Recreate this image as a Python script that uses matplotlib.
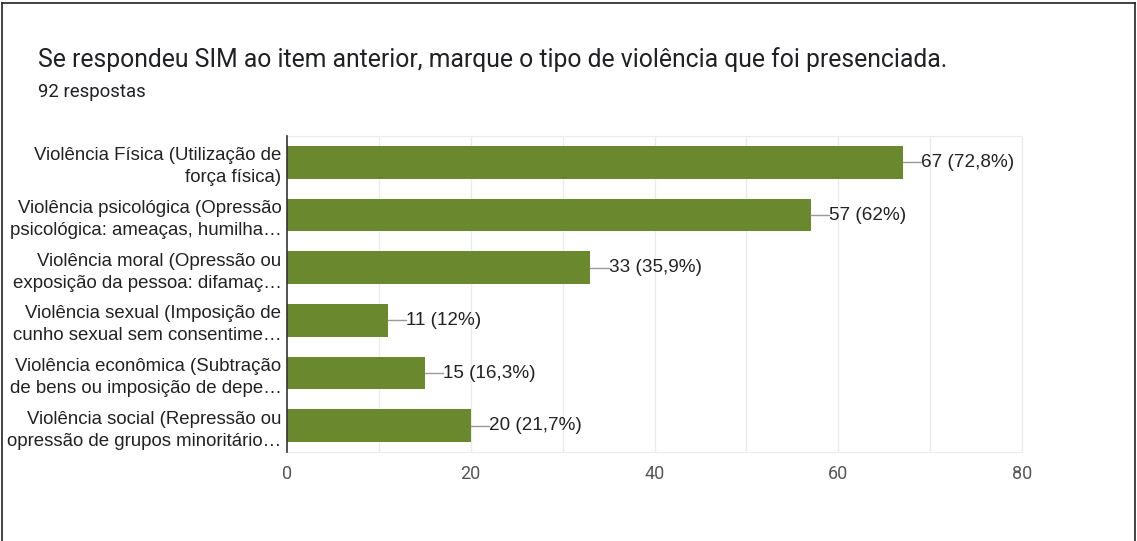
import matplotlib.pyplot as plt
from matplotlib.lines import Line2D

title = 'Se respondeu SIM ao item anterior, marque o tipo de violência que foi presenciada.'
subtitle = '92 respostas'
categories = [
    'Violência Física (Utilização de\nforça física)',
    'Violência psicológica (Opressão\npsicológica: ameaças, humilha…',
    'Violência moral (Opressão ou\nexposição da pessoa: difamaç…',
    'Violência sexual (Imposição de\ncunho sexual sem consentime…',
    'Violência econômica (Subtração\nde bens ou imposição de depe…',
    'Violência social (Repressão ou\nopressão de grupos minoritário…',
]
counts = [67, 57, 33, 11, 15, 20]
value_labels = ['67 (72,8%)', '57 (62%)', '33 (35,9%)', '11 (12%)', '15 (16,3%)', '20 (21,7%)']
xticks = [0, 20, 40, 60, 80]

plt.rcParams['font.family'] = ['Liberation Sans', 'DejaVu Sans']

fig = plt.figure(figsize=(11.37, 5.41), dpi=100)
ax = fig.add_axes([0.2524, 0.1645, 0.6465, 0.5841])

bar_color = '#6a892e'
ypos = list(range(len(categories)))
ax.barh(ypos, counts, height=0.62, color=bar_color, zorder=3)
ax.set_ylim(len(categories) - 0.5, -0.5)
ax.set_xlim(0, 80)

# gridlines every 10
for gx in range(10, 81, 10):
    ax.axvline(gx, color='#ebebeb', lw=1, zorder=1)

ax.set_xticks(xticks)
ax.set_xticklabels([str(t) for t in xticks], fontsize=13, color='#555555',
                   family=['Roboto', 'DejaVu Sans'])
ax.set_yticks(ypos)
ax.set_yticklabels(categories, fontsize=13.4, color='#222222', linespacing=1.38)
ax.tick_params(axis='both', length=0, pad=4)
ax.tick_params(axis='x', pad=9)

for side in ['top', 'right', 'bottom']:
    ax.spines[side].set_color('#ebebeb')
ax.spines['left'].set_color('#333333')
ax.spines['left'].set_linewidth(1.2)
ax.spines['left'].set_zorder(4)

for y, c, lbl in zip(ypos, counts, value_labels):
    ax.plot([c, c + 2.0], [y, y], color='#999999', lw=1, zorder=4, clip_on=False)
    ax.text(c + 2.0, y, lbl, va='center', ha='left', fontsize=13.6, color='#222222')

fig.text(38 / 1137, 1 - 60 / 541, title, fontsize=17.8, color='#202124', va='center', ha='left',
         family=['Roboto', 'DejaVu Sans'])
fig.text(38 / 1137, 1 - 92 / 541, subtitle, fontsize=13.4, color='#202124', va='center', ha='left',
         family=['Roboto', 'DejaVu Sans'])

# outer frame (left, top, right)
fig.add_artist(Line2D([2 / 1137, 2 / 1137], [0, 1 - 3 / 541], color='#222222', lw=1.2, transform=fig.transFigure))
fig.add_artist(Line2D([2 / 1137, 1135 / 1137], [1 - 3 / 541, 1 - 3 / 541], color='#222222', lw=1.2, transform=fig.transFigure))
fig.add_artist(Line2D([1135 / 1137, 1135 / 1137], [0, 1 - 3 / 541], color='#222222', lw=1.2, transform=fig.transFigure))

fig.savefig('out.png', dpi=100, facecolor='white')
